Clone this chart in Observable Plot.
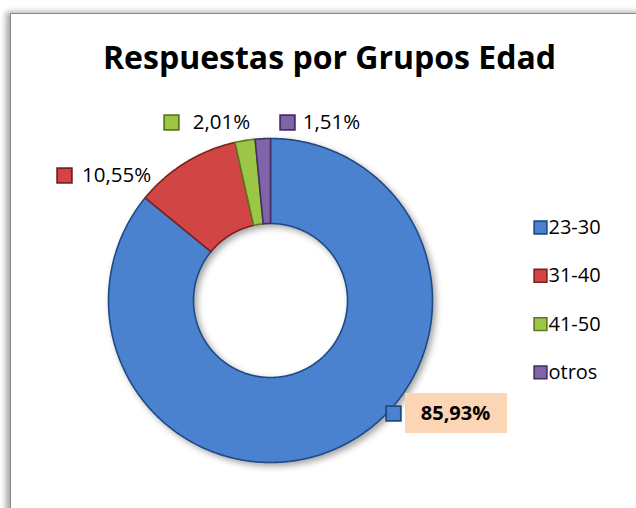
<!DOCTYPE html>
<html>
<head>
<meta charset="utf-8">
<script src="https://cdn.jsdelivr.net/npm/d3@7"></script>
<script src="https://cdn.jsdelivr.net/npm/@observablehq/plot@0.6"></script>
<style>
  html, body { margin: 0; padding: 0; background: #fff; }
  #wrap { position: relative; width: 636px; height: 508px; overflow: hidden; }
  #frame { position: absolute; left: 10px; top: 13px; width: 700px; height: 600px;
           border: 1px solid #8c8c8c; box-shadow: -4px -1px 6px rgba(0,0,0,0.35); background: #fff; }
  #chart { position: absolute; left: 0; top: 0; }
</style>
</head>
<body>
<div id="wrap"><div id="frame"></div><div id="chart"></div></div>
<script>
// ---- data ----
const categories = ["23-30", "31-40", "41-50", "otros"];
const values = [85.93, 10.55, 2.01, 1.51];
const labels = ["85,93%", "10,55%", "2,01%", "1,51%"];
const title = "Respuestas por Grupos Edad";

// ---- styles / layout ----
const fills   = ["#4a82d0", "#d24545", "#9cc646", "#8064a8"];
const strokes = ["#1f4a85", "#7d2020", "#5a7a20", "#432e66"];
const cx = 270, cy = 300;        // pixel center of donut
const rOuter = 162, rInner = 77;
// label anchor positions (pixel) for icon + text, chosen as in the reference
const labelLayout = [
  {ix: 393, tx: 455, y: 413, bold: true, box: true},
  {ix: 64,  tx: 116, y: 175},
  {ix: 171, tx: 221, y: 122},
  {ix: 287, tx: 331, y: 122}
];
const legendX = 540, legendY0 = 227, legendStep = 48.3;

// ---- geometry built from values ----
const total = d3.sum(values);
let acc = 0;
const slices = values.map((v, i) => {
  const a0 = acc / total * 2 * Math.PI;
  acc += v;
  const a1 = acc / total * 2 * Math.PI;
  return {cat: categories[i], i, a0, a1};
});
const pts = [];
for (const s of slices) {
  const n = Math.max(4, Math.ceil((s.a1 - s.a0) / 0.01));
  for (let k = 0; k <= n; k++) {
    const a = s.a0 + (s.a1 - s.a0) * k / n;
    pts.push({cat: s.cat, i: s.i, x: rOuter * Math.sin(a), y: -rOuter * Math.cos(a)});
  }
  for (let k = n; k >= 0; k--) {
    const a = s.a0 + (s.a1 - s.a0) * k / n;
    pts.push({cat: s.cat, i: s.i, x: rInner * Math.sin(a), y: -rInner * Math.cos(a)});
  }
  pts.push({cat: s.cat, i: s.i, x: rOuter * Math.sin(s.a0), y: -rOuter * Math.cos(s.a0)});
}

const lab = categories.map((c, i) => ({cat: c, i, text: labels[i], ...labelLayout[i],
  ixd: labelLayout[i].ix - cx, txd: labelLayout[i].tx - cx, yd: labelLayout[i].y - cy}));
const leg = categories.map((c, i) => ({cat: c, i, xd: legendX - cx, yd: legendY0 + i * legendStep - cy}));

const font = "'Open Sans', 'Noto Sans', sans-serif";

const plot = Plot.plot({
  width: 636, height: 508, margin: 0,
  x: {domain: [-cx, 636 - cx], range: [0, 636], axis: null},
  y: {domain: [-cy, 508 - cy], range: [0, 508], axis: null},
  style: {background: "transparent", fontFamily: font},
  marks: [
    Plot.line(pts, {x: "x", y: "y", z: "cat", fill: d => fills[d.i], stroke: d => strokes[d.i], strokeWidth: 1.6, curve: "linear"}),
    // title
    Plot.text([title], {x: 329 - cx, y: 58 - cy, text: d => d, fontSize: 32, fontWeight: "bold", fill: "#000", fontFamily: font}),
    // label background for highlighted label
    Plot.rect(lab.filter(d => d.box), {x1: d => d.txd - 50, x2: d => d.txd + 52, y1: d => d.yd - 20, y2: d => d.yd + 20, fill: "#fcd5b4"}),
    Plot.dot(lab, {x: "ixd", y: "yd", symbol: "square", r: 8.3, fill: d => fills[d.i], stroke: d => strokes[d.i], strokeWidth: 1.8}),
    Plot.text(lab.filter(d => !d.bold), {x: "txd", y: "yd", text: "text", fontSize: 20.5, fill: "#000", fontFamily: font}),
    Plot.text(lab.filter(d => d.bold), {x: "txd", y: "yd", text: "text", fontSize: 20, fontWeight: "bold", fill: "#000", fontFamily: font}),
    // legend
    Plot.dot(leg, {x: "xd", y: "yd", symbol: "square", r: 7.2, fill: d => fills[d.i], stroke: d => strokes[d.i], strokeWidth: 1.6}),
    Plot.text(leg, {x: d => d.xd + 8, y: "yd", text: "cat", textAnchor: "start", fontSize: 20, fill: "#000", fontFamily: font})
  ]
});
// drop shadow on donut slices
const lineG = plot.querySelector('g[aria-label="line"]');
if (lineG) lineG.style.filter = "drop-shadow(3px 3px 3px rgba(0,0,0,0.35))";
document.getElementById("chart").appendChild(plot);
</script>
</body>
</html>
